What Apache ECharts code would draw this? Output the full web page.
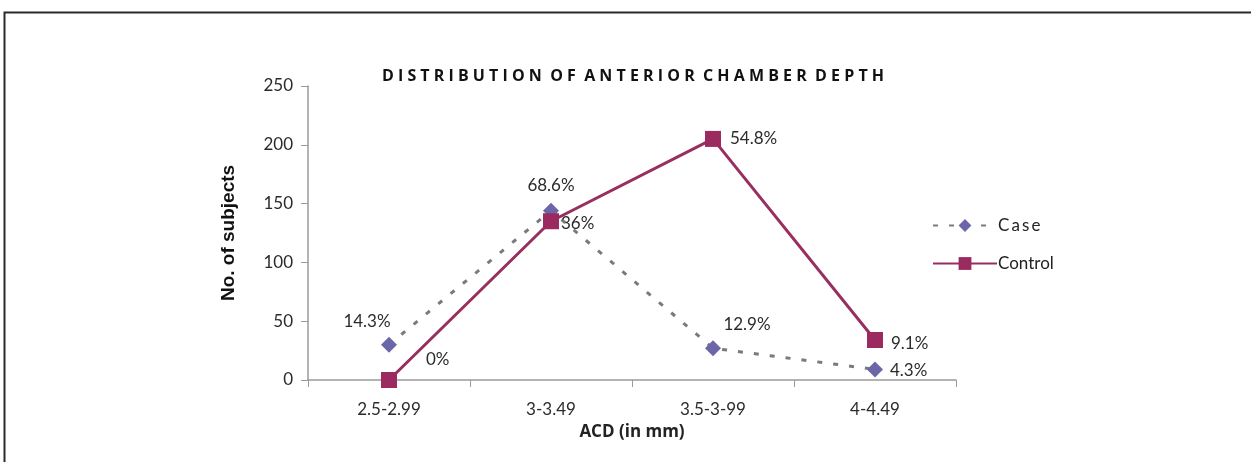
<!DOCTYPE html>
<html>
<head>
<meta charset="utf-8">
<script src="https://cdn.jsdelivr.net/npm/echarts@6/dist/echarts.min.js"></script>
<style>
  html, body { margin: 0; padding: 0; background: #fff; }
  #chart { width: 1251px; height: 462px; }
</style>
</head>
<body>
<div id="chart"></div>
<script>
// Anterior chamber depth groups (mm)
const categories = ['2.5-2.99', '3-3.49', '3.5-3-99', '4-4.49'];
// Number of subjects per group
const caseCounts = [30, 144, 27, 9];
const controlCounts = [0, 135, 205, 34];
// Share of each group within its series
const casePct = ['14.3%', '68.6%', '12.9%', '4.3%'];
const controlPct = ['0%', '36%', '54.8%', '9.1%'];
const yTicks = { min: 0, max: 250, interval: 50 };

const labelFont = { fontFamily: 'Lato, "Open Sans", sans-serif', fontSize: 17, color: '#2b2b2b' };

// label placement per point: [position, offset]
const casePos = [['top', [-22, -2]], ['top', [0, -4]], ['top', [34, -2]], ['right', [2, 1]]];
const controlPos = [['right', [24, -20]], ['right', [-3, 2]], ['right', [4, 0]], ['right', [3, 3]]];

function withLabels(values, texts, pos) {
  return values.map((v, i) => ({
    value: v,
    label: { show: true, position: pos[i][0], offset: pos[i][1], formatter: texts[i], ...labelFont }
  }));
}

const chart = echarts.init(document.getElementById('chart'));
chart.setOption({
  backgroundColor: '#fff',
  animation: false,
  graphic: [{
    type: 'rect', left: 2, top: 10, z: -1,
    shape: { width: 1400, height: 600 },
    style: { fill: 'none', stroke: '#2a2a2a', lineWidth: 2 }
  }],
  title: {
    text: 'D I S T R I B U T I O N  O F  A N T E R I O R  C H A M B E R  D E P T H',
    left: 628, top: 63, textAlign: 'center',
    textStyle: { fontFamily: '"Open Sans", sans-serif', fontWeight: 'bold', fontSize: 16, color: '#111' }
  },
  legend: {
    orient: 'vertical', left: 927, top: 212, itemGap: 21,
    itemWidth: 64, itemHeight: 16,
    textStyle: { fontFamily: 'Lato, "Open Sans", sans-serif', fontSize: 17, color: '#222', padding: [0, 0, 0, -4] },
    formatter: n => (n === 'Case' ? 'C\u2009a\u2009s\u2009e' : n),
    data: ['Case', 'Control']
  },
  grid: { left: 308, right: 295, top: 86, bottom: 82 },
  xAxis: {
    type: 'category', data: categories, boundaryGap: true,
    name: 'ACD (in mm)', nameLocation: 'middle', nameGap: 44,
    nameTextStyle: { fontFamily: '"Open Sans", sans-serif', fontWeight: 'bold', fontSize: 17, color: '#222' },
    axisLine: { lineStyle: { color: '#9a9a9a', width: 1.5 } },
    axisTick: { show: true, alignWithLabel: false, length: 7, inside: false, lineStyle: { color: '#9a9a9a' } },
    axisLabel: { ...labelFont, margin: 21 }
  },
  yAxis: {
    type: 'value', ...yTicks,
    name: 'No. of subjects', nameLocation: 'middle', nameGap: 70,
    nameTextStyle: { fontFamily: '"Liberation Sans", Arial, sans-serif', fontWeight: 'bold', fontSize: 19, color: '#111' },
    axisLine: { show: true, lineStyle: { color: '#9a9a9a', width: 1.5 } },
    axisTick: { show: true, length: 7, lineStyle: { color: '#9a9a9a' } },
    splitLine: { show: false },
    axisLabel: { ...labelFont, margin: 15 }
  },
  series: [
    {
      name: 'Case', type: 'line',
      data: withLabels(caseCounts, casePct, casePos),
      symbol: 'diamond', symbolSize: 16,
      itemStyle: { color: '#6a66a8' },
      lineStyle: { color: '#7a7a7a', width: 3, type: [5, 11] },
      z: 2
    },
    {
      name: 'Control', type: 'line',
      data: withLabels(controlCounts, controlPct, controlPos),
      symbol: 'rect', symbolSize: 16,
      itemStyle: { color: '#9b2a60' },
      lineStyle: { color: '#98305f', width: 3 },
      z: 3
    }
  ]
});
</script>
</body>
</html>
